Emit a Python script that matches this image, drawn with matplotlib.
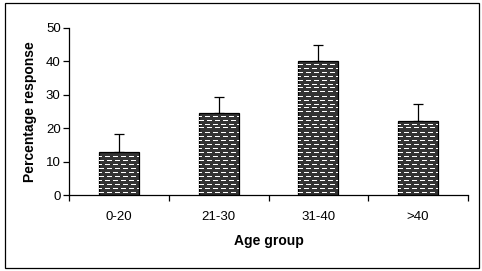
import matplotlib
matplotlib.use("Agg")
import matplotlib.pyplot as plt
from matplotlib.patches import Rectangle
import numpy as np

categories = ["0-20", "21-30", "31-40", ">40"]
values = [13.0, 24.5, 40.0, 22.1]
errors = [5.3, 4.8, 4.8, 5.1]
yticks = [0, 10, 20, 30, 40, 50]

plt.rcParams['font.family'] = ['Liberation Sans', 'DejaVu Sans']

W, H, DPI = 482, 271, 100
fig = plt.figure(figsize=(W / DPI, H / DPI), dpi=DPI)
fig.patch.set_facecolor("white")
fig.add_artist(Rectangle((4.5 / W, 3.5 / H), 474.5 / W, 264.5 / H, transform=fig.transFigure,
                         fill=False, edgecolor="black", linewidth=0.9))

ax = fig.add_axes([69 / W, 1 - 195 / H, (468 - 69) / W, (195 - 28) / H])
x = np.arange(len(categories))
bars = ax.bar(x, values, width=0.4, color="#333333", edgecolor="black", linewidth=0.9, zorder=2)
ax.errorbar(x, values, yerr=[np.zeros(len(errors)), errors], fmt="none", ecolor="black",
            elinewidth=0.9, capsize=3.5, capthick=0.9, zorder=1)

ax.set_xlim(-0.5, len(categories) - 0.5)
ax.set_ylim(0, 50)

# white dashed texture inside bars (rows snapped to pixel grid)
fig.canvas.draw()
inv = ax.transData.inverted()
y0_disp = ax.transData.transform((0, 0))[1]
for b, v in zip(bars, values):
    top_disp = ax.transData.transform((0, v))[1]
    yd = np.floor(y0_disp) + 3.5
    k = 0
    while yd < top_disp - 2:
        yy = inv.transform((0, yd))[1]
        off = 0 if k % 2 == 0 else 2
        ln, = ax.plot([b.get_x(), b.get_x() + b.get_width()], [yy, yy], color="white",
                      linewidth=0.72, linestyle=(off, (5, 3)), dash_capstyle="butt",
                      antialiased=False, zorder=3)
        ln.set_clip_path(b)
        yd += 4
        k += 1

ax.spines["top"].set_visible(False)
ax.spines["right"].set_visible(False)
ax.spines["left"].set_linewidth(0.9)
ax.spines["bottom"].set_linewidth(0.9)

ax.set_yticks(yticks)
ax.tick_params(axis="y", direction="out", length=4, width=0.9, labelsize=9.5, pad=2)
ax.set_xticks(np.arange(-0.5, len(categories) + 0.5, 1.0))
ax.set_xticklabels([])
ax.tick_params(axis="x", which="major", direction="out", length=4, width=0.9)
ax.set_xticks(x, minor=True)
ax.set_xticklabels(categories, minor=True)
ax.tick_params(axis="x", which="minor", length=0, labelsize=9.5, pad=11.5)

ax.set_xlabel("Age group", fontsize=10, fontweight="bold", labelpad=8)
ax.set_ylabel("Percentage response", fontsize=10, fontweight="bold", labelpad=6)

fig.savefig("out.png", dpi=DPI, facecolor="white")
